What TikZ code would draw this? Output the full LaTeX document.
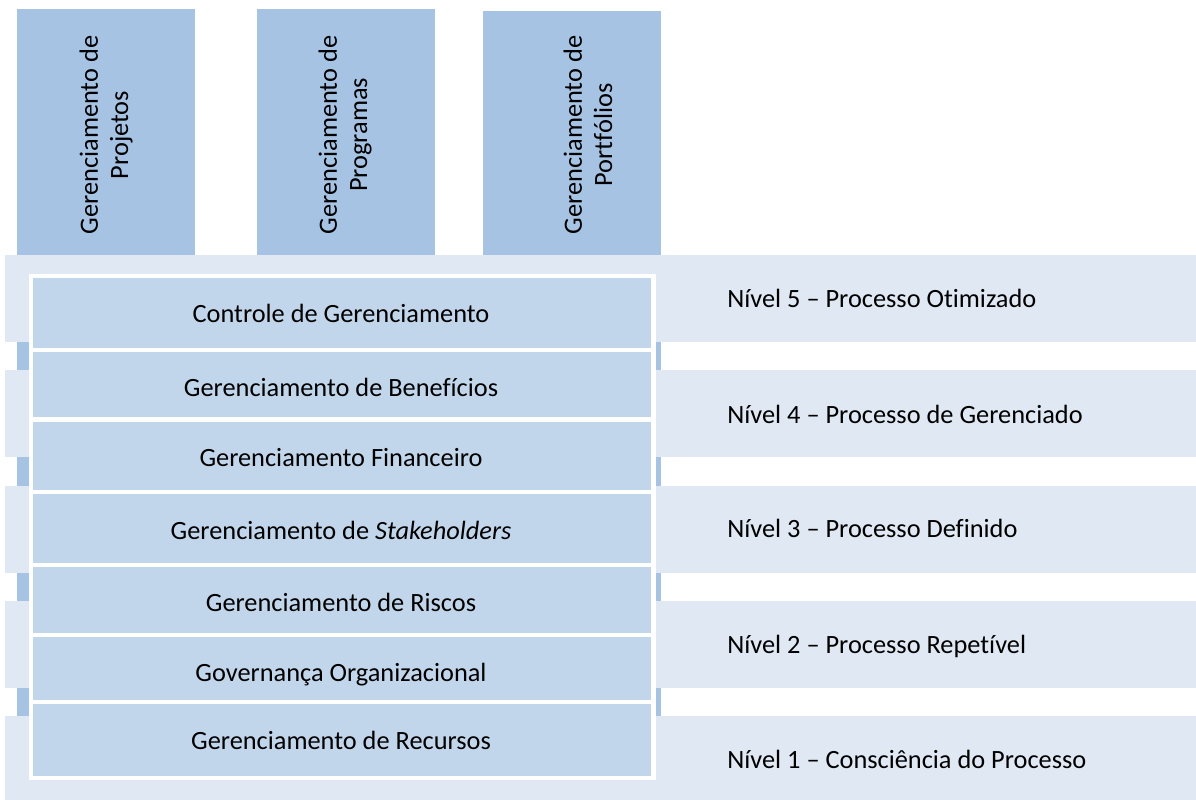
\documentclass[tikz,border=0pt]{standalone}
\usepackage{fontspec}
\setmainfont{Carlito}[Ligatures=NoCommon]
\definecolor{colblue}{HTML}{A6C3E4}
\definecolor{bandblue}{HTML}{DFE8F3}
\definecolor{rowblue}{HTML}{C2D6EB}
\tikzset{
  coluna/.style={fill=colblue},
  faixa/.style={fill=bandblue},
  linha/.style={fill=rowblue},
  rotulo/.style={font=\fontsize{15}{17.2}\selectfont, text=black, inner sep=0pt},
}

\begin{document}
\begin{tikzpicture}[x=0.02cm, y=-0.02cm]
    \useasboundingbox (0,0) rectangle (1196,800);
    % colunas
    \fill[coluna] (17,9) rectangle (195,255);
    \fill[coluna] (257,9) rectangle (435,255);
    \fill[coluna] (483,11) rectangle (661,255);
    \fill[coluna] (17,255) rectangle (661,760);
    \node[rotulo, rotate=90, align=center] (projetos) at (106,135) {Gerenciamento de\\Projetos};
    \node[rotulo, rotate=90, align=center] (programas) at (345,135) {Gerenciamento de\\Programas};
    \node[rotulo, rotate=90, align=center] (portfolios) at (588,135) {Gerenciamento de\\Portfólios};
    % faixas dos niveis
    \foreach \t/\b in {255/342, 370/457, 486/573, 601/688, 716/800}
        \fill[faixa] (5,\t) rectangle (1196,\b);
    \foreach \y/\n/\txt in {308/5/{Nível 5 – Processo Otimizado},
                            423/4/{Nível 4 – Processo de Gerenciado},
                            537/3/{Nível 3 – Processo Definido},
                            653/2/{Nível 2 – Processo Repetível},
                            768/1/{Nível 1 – Consciência do Processo}}
        \node[rotulo, anchor=base west] (nivel\n) at (727,\y) {\txt};
    % areas de conhecimento
    \fill[white] (29,274) rectangle (656,780);
    \foreach \t/\b/\y/\nome/\txt in {278/348/322/controle/{Controle de Gerenciamento},
                                     352/417/396/beneficios/{Gerenciamento de Benefícios},
                                     422/490/466/financeiro/{Gerenciamento Financeiro},
                                     494/563/539/stakeholders/{Gerenciamento de \textit{Stakeholders}},
                                     567/633/611/riscos/{Gerenciamento de Riscos},
                                     637/700/681/governanca/{Governança Organizacional},
                                     704/776/749/recursos/{Gerenciamento de Recursos}}
    {
        \fill[linha] (33,\t) rectangle (651,\b);
        \node[rotulo, anchor=base] (\nome) at (341,\y) {\txt};
    }
\end{tikzpicture}
\end{document}
